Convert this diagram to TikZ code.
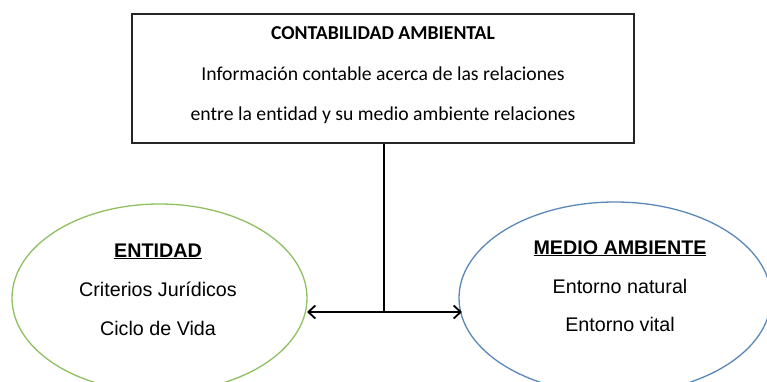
\documentclass[tikz,border=0pt]{standalone}
\usepackage{fontspec}
\setmainfont{Liberation Sans}
\newfontfamily\calib[Ligatures=NoCommon]{Carlito}
\usetikzlibrary{shapes.geometric,arrows.meta}
\definecolor{egreen}{HTML}{8DC063}
\definecolor{eblue}{HTML}{5A87B8}
\begin{document}
\begin{tikzpicture}[x=1pt,y=-1pt,
  boxtxt/.style={font=\calib\fontsize{19.7}{22}\selectfont, inner sep=0pt, anchor=base},
  elltxt/.style={font=\fontsize{19.7}{22}\selectfont, inner sep=0pt, anchor=base},
  ellshape/.style={ellipse, draw, line width=1.3pt, inner sep=0pt},
  conn/.style={line width=1.8pt, black},
  arr/.style={conn, -{Straight Barb[length=7pt,width=13pt,line width=1.8pt]}}]
\useasboundingbox (0,0) rectangle (767,381);
\node[draw=black!85, line width=1.4pt, minimum width=502pt, minimum height=129pt, inner sep=0pt] (box) at (383,78.5) {};
\node[boxtxt] (t1) at (383,39) {\bfseries CONTABILIDAD AMBIENTAL};
\node[boxtxt] (t2) at (383,80) {Información contable acerca de las relaciones};
\node[boxtxt] (t3) at (383,120) {entre la entidad y su medio ambiente relaciones};
\node[ellshape, draw=egreen, minimum width=295pt, minimum height=188pt] (ent) at (159.5,298) {};
\node[ellshape, draw=eblue, minimum width=312pt, minimum height=192pt] (med) at (615,298) {};
\node[elltxt] (e1) at (158,257) {\bfseries\underline{ENTIDAD}};
\node[elltxt] (e2) at (158,296) {Criterios Jurídicos};
\node[elltxt] (e3) at (158,335) {Ciclo de Vida};
\node[elltxt] (m1) at (620,254) {\bfseries\underline{MEDIO AMBIENTE}};
\node[elltxt] (m2) at (620,293) {Entorno natural};
\node[elltxt] (m3) at (620,331) {Entorno vital};
\coordinate (j) at (384,312);
\draw[conn] (box.south -| j) -- (j);
\draw[arr] (j) -- (307,312);
\draw[arr] (j) -- (462,312);
\end{tikzpicture}
\end{document}
